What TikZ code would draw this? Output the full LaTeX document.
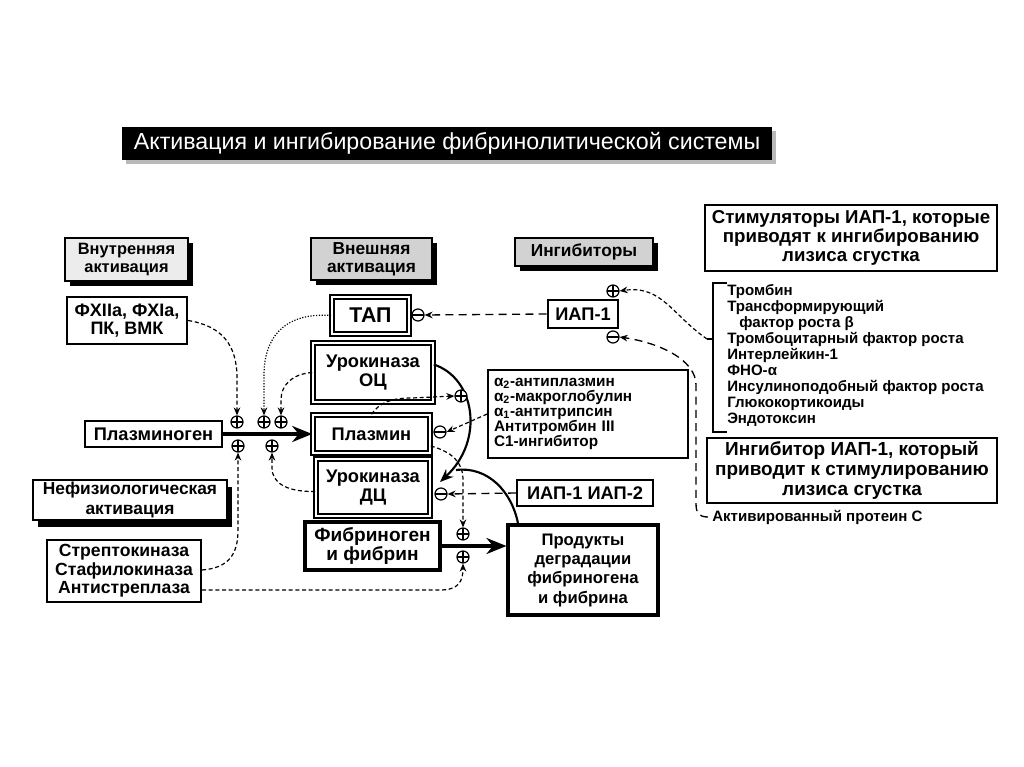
\documentclass[tikz,border=0pt]{standalone}
\usepackage{fontspec}
\setmainfont{Liberation Sans}
\usetikzlibrary{arrows.meta,shadows}
\newcommand\fsz[2]{\fontsize{#1}{#2}\selectfont}
\tikzset{
  box/.style={draw, line width=1.5pt, fill=white, inner sep=0pt, align=center, font=\bfseries\fsz{13.7}{14.6}},
  dbox/.style={box, line width=1.2pt, double, double distance=2.2pt},
  hdr/.style={box, line width=1.2pt, drop shadow={shadow xshift=3.5pt, shadow yshift=-3.5pt, fill=black, opacity=1}, font=\bfseries\fsz{13}{13.5}},
  sgn/.style={circle, draw, line width=0.9pt, minimum size=9pt, inner sep=0pt, fill=white},
  pl/.style={sgn, path picture={\draw[line width=0.8pt] (path picture bounding box.north) -- (path picture bounding box.south) (path picture bounding box.west) -- (path picture bounding box.east);}},
  mn/.style={sgn, path picture={\draw[line width=0.8pt] (path picture bounding box.west) -- (path picture bounding box.east);}},
  da/.style={line width=0.9pt, dash pattern=on 3pt off 2pt, -{Stealth[length=6pt,width=5pt]}},
  lda/.style={line width=1pt, dash pattern=on 6pt off 4pt, -{Stealth[length=6pt,width=5pt]}},
  dot/.style={line width=0.9pt, dash pattern=on 0.9pt off 1.2pt, -{Stealth[length=6pt,width=5pt]}},
  bigarrow/.style={line width=3pt, -{Stealth[length=15pt,width=12pt]}},
  lst/.style={align=left, inner sep=0pt, font=\bfseries\fsz{11.3}{12}}
}
\begin{document}
\begin{tikzpicture}[x=0.75pt,y=-0.75pt]
\useasboundingbox (0,0) rectangle (1024,767);

% title
\fill[gray!55] (126,131) rectangle (776,164);
\node[fill=black, text=white, inner sep=0pt, minimum width=650*0.75pt, minimum height=33*0.75pt, font=\fsz{17.4}{19}] (title) at (447,143.5) {Активация и ингибирование фибринолитической системы};

% headers
\node[hdr, fill=gray!15, minimum width=123*0.75pt, minimum height=43*0.75pt, font=\bfseries\fsz{12.3}{13.5}] (hin) at (126.5,259.5) {Внутренняя\\активация};
\node[hdr, fill=gray!35, minimum width=121*0.75pt, minimum height=42*0.75pt] (hout) at (371.5,259) {Внешняя\\активация};
\node[hdr, fill=gray!35, minimum width=138*0.75pt, minimum height=28*0.75pt] (hinh) at (584,252) {Ингибиторы};

% right boxes
\node[box, line width=1.6pt, minimum width=292*0.75pt, minimum height=66*0.75pt, font=\bfseries\fsz{14}{14.5}] (stim) at (851,238) {Стимуляторы ИАП-1, которые\\приводят к ингибированию\\лизиса сгустка};
\node[lst, anchor=north west] (list) at (727,284) {Тромбин\\Трансформирующий\\\hspace{9pt}фактор роста β\\Тромбоцитарный фактор роста\\Интерлейкин-1\\ФНО-α\\Инсулиноподобный фактор роста\\Глюкокортикоиды\\Эндотоксин};
\draw[line width=1.5pt] (727,283) -- (713,283) -- (713,432) -- (727,432);
\coordinate (brk) at (707,339);
\draw[line width=1.2pt] (713,339) -- (brk);
\node[box, line width=1.6pt, minimum width=290*0.75pt, minimum height=65*0.75pt, font=\bfseries\fsz{14.2}{15}] (ingib) at (852,470.5) {Ингибитор ИАП-1, который\\приводит к стимулированию\\лизиса сгустка};
\node[inner sep=0pt, anchor=west, font=\bfseries\fsz{11.3}{12}] (apc) at (712,517) {Активированный протеин С};

% left
\node[box, line width=1.8pt, minimum width=120*0.75pt, minimum height=47*0.75pt, font=\bfseries\fsz{13.5}{14}] (fxii) at (127,320.5) {ФXIIa, ФXIa,\\ПК, ВМК};
\node[box, line width=2pt, minimum width=137*0.75pt, minimum height=26*0.75pt] (plg) at (153.5,434) {Плазминоген};
\node[box, line width=1.8pt, minimum width=194*0.75pt, minimum height=40*0.75pt, drop shadow={shadow xshift=4pt, shadow yshift=-5pt, fill=black, opacity=1}, font=\bfseries\fsz{13}{15}] (nef) at (130,500) {Нефизиологическая\\активация};
\node[box, line width=1.6pt, minimum width=154*0.75pt, minimum height=62*0.75pt, font=\bfseries\fsz{13.2}{14}] (strep) at (124,571) {Стрептокиназа\\Стафилокиназа\\Антистреплаза};

% centre
\node[dbox, minimum width=77*0.75pt, minimum height=37*0.75pt, font=\bfseries\fsz{16}{17}] (tap) at (370.5,315.5) {ТАП};
\node[dbox, minimum width=120*0.75pt, minimum height=59*0.75pt] (uok) at (373,372.5) {Урокиназа\\ОЦ};
\node[dbox, minimum width=117*0.75pt, minimum height=38*0.75pt] (plm) at (371.5,434) {Плазмин};
\node[dbox, minimum width=114*0.75pt, minimum height=57*0.75pt] (udc) at (373,487.5) {Урокиназа\\ДЦ};
\node[box, line width=2.3pt, minimum width=135*0.75pt, minimum height=48*0.75pt, font=\bfseries\fsz{14.3}{14.5}] (fib) at (372.5,546) {Фибриноген\\и фибрин};
\node[box, line width=2.3pt, minimum width=150*0.75pt, minimum height=90*0.75pt, font=\bfseries\fsz{12.5}{14.5}] (prod) at (583,570) {Продукты\\деградации\\фибриногена\\и фибрина};

% inhibitors
\node[box, line width=2pt, minimum width=70*0.75pt, minimum height=28*0.75pt] (iap1) at (583,314) {ИАП-1};
\node[box, line width=1.3pt, minimum width=200*0.75pt, minimum height=88*0.75pt, text width=188*0.75pt, align=left, font=\bfseries\fsz{11.5}{11.25}] (alpha) at (588,414) {α\textsubscript{2}-антиплазмин\\α\textsubscript{2}-макроглобулин\\α\textsubscript{1}-антитрипсин\\Антитромбин III\\С1-ингибитор};
\node[box, line width=1.6pt, minimum width=136*0.75pt, minimum height=26*0.75pt] (iap12) at (585,493) {ИАП-1 ИАП-2};

% signs
\node[mn] (m1) at (418,315) {};
\node[pl] (pp1) at (613,291) {};
\node[mn] (mm1) at (613,337) {};
\node[pl] (a1) at (237,422) {};
\node[pl] (a2) at (264,422) {};
\node[pl] (a3) at (281,422) {};
\node[pl] (b1) at (238,446) {};
\node[pl] (b2) at (272,446) {};
\node[mn] (m2) at (440,432) {};
\node[mn] (m3) at (441,494) {};
\node[pl] (d1) at (463,534) {};
\node[pl] (d2) at (463,557) {};

% solid curves
\draw[line width=1.6pt, -{Stealth[length=10pt,width=8pt]}] (uok.east) ++(0,-8) .. controls (475,378) and (485,440) .. (440,482);
\coordinate (jn) at (456,470);
\draw[line width=1.6pt] (prod.north) ++(-65,0) .. controls (512,492) and (488,466) .. (jn);
\node[pl] (c) at (461,396) {};

% main arrows
\draw[bigarrow] (plg.east) -- (plm.west);
\draw[bigarrow] (fib.east) -- (fib.east -| prod.west);

% dashed connectors
\draw[lda] (iap1.west) -- (m1.east);
\draw[da] (fxii.east) .. controls (222,326) and (237,345) .. (237,378) -- (a1.north);
\draw[dot] (tap.west) .. controls (282,312) and (264,340) .. (264,375) -- (a2.north);
\draw[da] (uok.west) .. controls (292,374) and (281,385) .. (281,400) -- (a3.north);
\draw[da] (strep.east) ++(0,-1) .. controls (228,568) and (238,555) .. (238,530) -- (b1.south);
\draw[da] (udc.west) ++(0,4) .. controls (285,492) and (272,482) .. (272,468) -- (b2.south);
\draw[da] (strep.east) ++(0,19) -- (440,590) .. controls (458,590) and (463,582) .. (d2.south);
\draw[da] (plm.north) .. controls (380,402) and (392,398) .. (412,398) -- (c.west);
\draw[da] (alpha.west) -- (m2.east);
\draw[lda] (iap12.west) -- (m3.east);
\draw[da] (plm.east) ++(0,12) .. controls (452,452) and (463,462) .. (463,480) -- (d1.north);
\draw[da] (brk) .. controls (672,315) and (662,285) .. (pp1.east);
\draw[lda] ([xshift=-3pt]apc.west) .. controls (698,517) and (696,512) .. (696,503) -- (696,385) .. controls (696,360) and (660,343) .. (mm1.east);
\end{tikzpicture}
\end{document}
